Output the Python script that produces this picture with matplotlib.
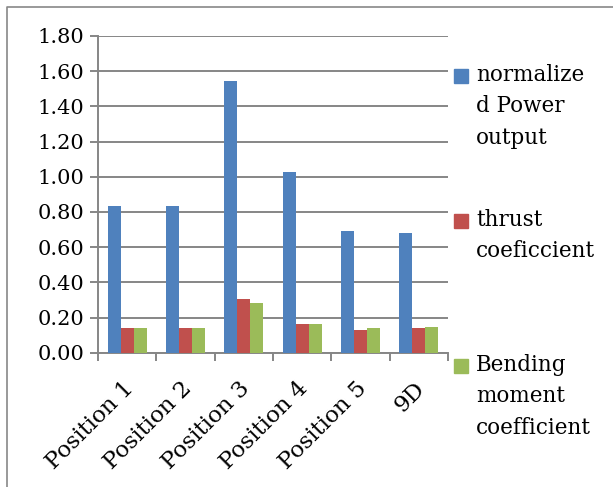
import numpy as np
import matplotlib
matplotlib.use("Agg")
import matplotlib.pyplot as plt
import matplotlib.transforms as mtransforms
from matplotlib.lines import Line2D
from matplotlib.patches import Rectangle

# data
categories = ["Position 1", "Position 2", "Position 3", "Position 4", "Position 5", "9D"]
power = [0.835, 0.832, 1.544, 1.025, 0.69, 0.68]
thrust = [0.142, 0.143, 0.305, 0.163, 0.128, 0.142]
bending = [0.142, 0.142, 0.284, 0.163, 0.142, 0.148]
series_names = ["normalize\nd Power\noutput", "thrust\ncoeficcient", "Bending\nmoment\ncoefficient"]
colors = ["#4F81BD", "#C0504D", "#9BBB59"]

plt.rcParams["font.family"] = ["DejaVu Serif"]
W, H = 613, 487
fig = plt.figure(figsize=(W / 100, H / 100), dpi=100)

# axes placed in pixel coordinates
x0, x1, ytop, ybot = 98, 448, 36, 352.7
ax = fig.add_axes([x0 / W, (H - ybot) / H, (x1 - x0) / W, (ybot - ytop) / H])

x = np.arange(len(categories))
bw = 0.223
for i, vals in enumerate([power, thrust, bending]):
    ax.bar(x + (i - 1) * bw, vals, width=bw, color=colors[i], zorder=3)

grid_c = "#868686"
ax.set_xlim(-0.5, len(categories) - 0.5)
ax.set_ylim(0, 1.8)
yt = np.arange(0, 1.81, 0.2)
ax.set_yticks(yt)
ax.set_yticklabels([f"{v:.2f}" for v in yt], fontsize=15)
ax.yaxis.grid(True, color=grid_c, linewidth=1.4, zorder=0)
ax.tick_params(axis="y", length=6, width=1.4, color=grid_c, pad=4)

ax.set_xticks(np.arange(-0.5, len(categories)), minor=False)
ax.set_xticklabels([])
ax.set_xticks(x, minor=True)
ax.set_xticklabels(categories, minor=True, rotation=45, ha="right",
                   rotation_mode="anchor", fontsize=16.5)
ax.tick_params(axis="x", which="major", length=6, width=1.4, color=grid_c)
ax.tick_params(axis="x", which="minor", length=0, pad=18)
shift = mtransforms.ScaledTranslation(-5 / 100, 0, fig.dpi_scale_trans)
for lab in ax.xaxis.get_minorticklabels():
    lab.set_transform(lab.get_transform() + shift)

for s in ["top", "right"]:
    ax.spines[s].set_visible(False)
for s in ["left", "bottom"]:
    ax.spines[s].set_color(grid_c)
    ax.spines[s].set_linewidth(1.4)

# legend drawn by hand
leg_y = [76, 221, 366]
for name, c, y in zip(series_names, colors, leg_y):
    fig.patches.append(Rectangle((454 / W, (H - y - 7) / H), 14 / W, 14 / H,
                                 transform=fig.transFigure, color=c))
    fig.text(476 / W, (H - y + 12) / H, name, fontsize=15.5, va="top",
             ha="left", linespacing=1.55)

# outer frame
fig.add_artist(Line2D([7 / W, 7 / W, 1], [0, (H - 7) / H, (H - 7) / H],
                      transform=fig.transFigure, color="#888888", linewidth=1.2))

fig.savefig("out.png", dpi=100)
